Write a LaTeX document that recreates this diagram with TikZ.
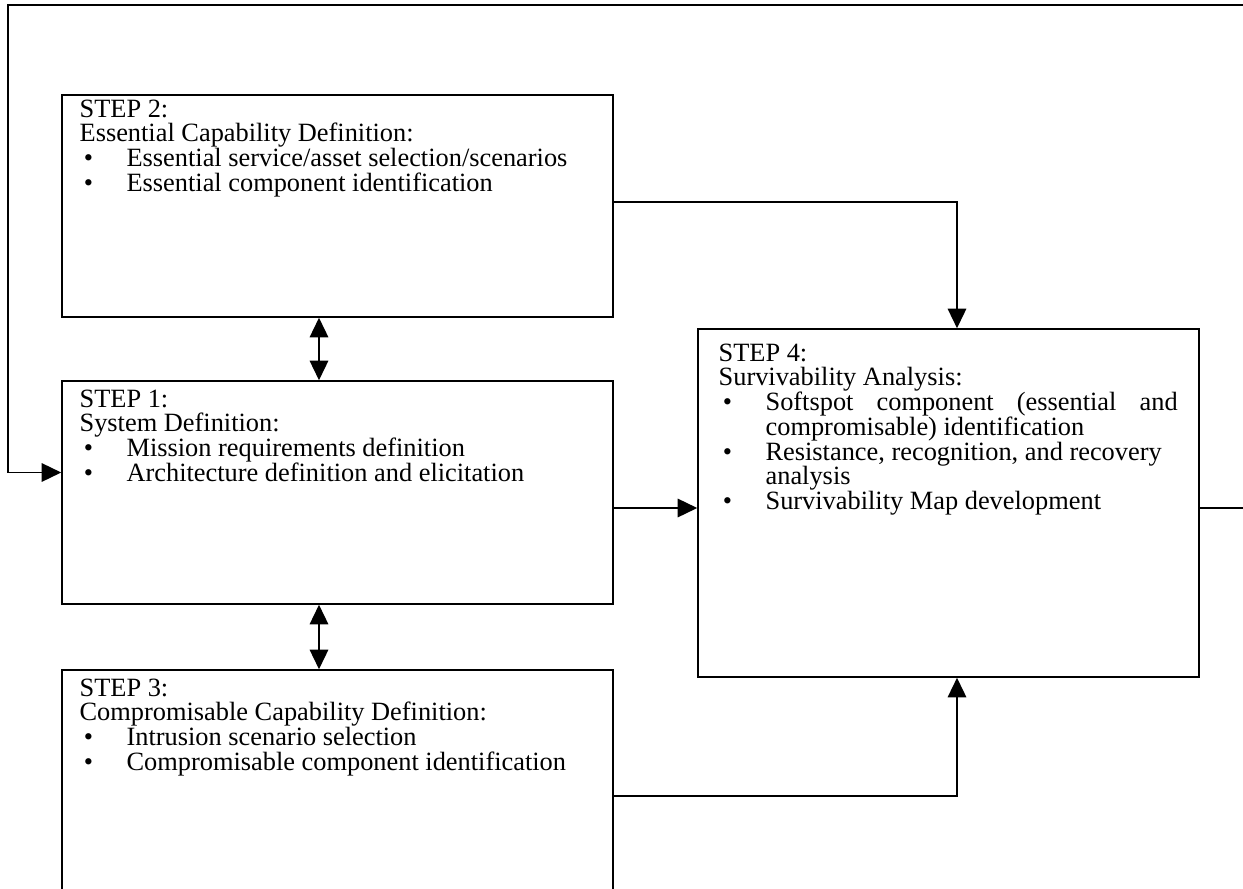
\documentclass[tikz,border=0pt]{standalone}
\usepackage{fontspec}
\setmainfont{Liberation Serif}
\usetikzlibrary{arrows.meta,calc}

% no hyphenation anywhere in the boxes
\hyphenpenalty=10000
\exhyphenpenalty=10000

% list layout inside the boxes
\newlength{\itemind}\setlength{\itemind}{22.8pt}
\newlength{\bulletoff}\setlength{\bulletoff}{2pt}
\newcommand{\bitem}[1]{\par\noindent\hangindent=\itemind\hangafter=1%
  \makebox[\itemind][l]{\hspace{\bulletoff}\textbullet}#1}

\tikzset{
  stepbox/.style={draw, line width=0.75pt, inner sep=0pt, minimum width=#1},
  steptext/.style={anchor=base west, inner sep=0pt, align=justify,
    font=\fontsize{12.8pt}{12pt}\selectfont},
  link/.style={line width=0.75pt, -{Triangle[length=9.5pt,width=9pt]}},
  bothway/.style={line width=0.75pt, {Triangle[length=9.5pt,width=9pt]}-{Triangle[length=9.5pt,width=9pt]}},
}

\begin{document}
\begin{tikzpicture}[x=0.4854pt, y=-0.4854pt]
  \useasboundingbox (0,0) rectangle (1243,888);
  \clip (0,0) rectangle (1243,888);

  % boxes
  \node[stepbox=551*0.4854pt, minimum height=222*0.4854pt] (s2) at (337.5,206) {};
  \node[stepbox=551*0.4854pt, minimum height=223*0.4854pt] (s1) at (337.5,492.5) {};
  \node[stepbox=551*0.4854pt, minimum height=252*0.4854pt] (s3) at (337.5,796) {};
  \node[stepbox=501*0.4854pt, minimum height=348*0.4854pt] (s4) at (948.5,503) {};

  % box contents
  \node[steptext, text width=520*0.4854pt] (t2) at ($(s2.north west)+(18,23)$) {%
    STEP 2:\par Essential Capability Definition:
    \bitem{Essential service/asset selection/scenarios}
    \bitem{Essential component identification}};
  \node[steptext, text width=520*0.4854pt] (t1) at ($(s1.north west)+(18,27)$) {%
    STEP 1:\par System Definition:
    \bitem{Mission requirements definition}
    \bitem{Architecture definition and elicitation}};
  \node[steptext, text width=520*0.4854pt] (t3) at ($(s3.north west)+(18,27)$) {%
    STEP 3:\par Compromisable Capability Definition:
    \bitem{Intrusion scenario selection}
    \bitem{Compromisable component identification}};
  \node[steptext, text width=459*0.4854pt] (t4) at ($(s4.north west)+(21,33)$) {%
    STEP 4:\par Survivability Analysis:
    \bitem{Softspot component (essential and compromisable) identification}
    \bitem{Resistance, recognition, and recovery\newline analysis}
    \bitem{Survivability Map development}};

  % turning points of the connectors
  \coordinate (s2out) at ($(s2.east)+(0,-4)$);
  \coordinate (s4inT) at ($(s4.north)+(8.5,0)$);
  \coordinate (s4inB) at ($(s4.south)+(8.5,0)$);
  \coordinate (s4inL) at ($(s4.west)+(0,5)$);
  \coordinate (s4out) at ($(s4.east)+(0,5)$);
  \coordinate (s1inL) at ($(s1.west)+(0,-20)$);
  \coordinate (loopR) at (1260,508);
  \coordinate (loopT) at (1260,5);
  \coordinate (loopL) at (8,5);

  % connectors
  \draw[link] (s2out) -| (s4inT);
  \draw[link] (s3.east) -| (s4inB);
  \draw[link] (s1.east |- s4inL) -- (s4inL);
  \draw[bothway] ($(s2.south)+(-18.5,0)$) -- ($(s1.north)+(-18.5,0)$);
  \draw[bothway] ($(s1.south)+(-18.5,0)$) -- ($(s3.north)+(-18.5,0)$);
  \draw[link] (s4out) -- (loopR) -- (loopT) -- (loopL) -- (loopL |- s1inL) -- (s1inL);
\end{tikzpicture}
\end{document}
